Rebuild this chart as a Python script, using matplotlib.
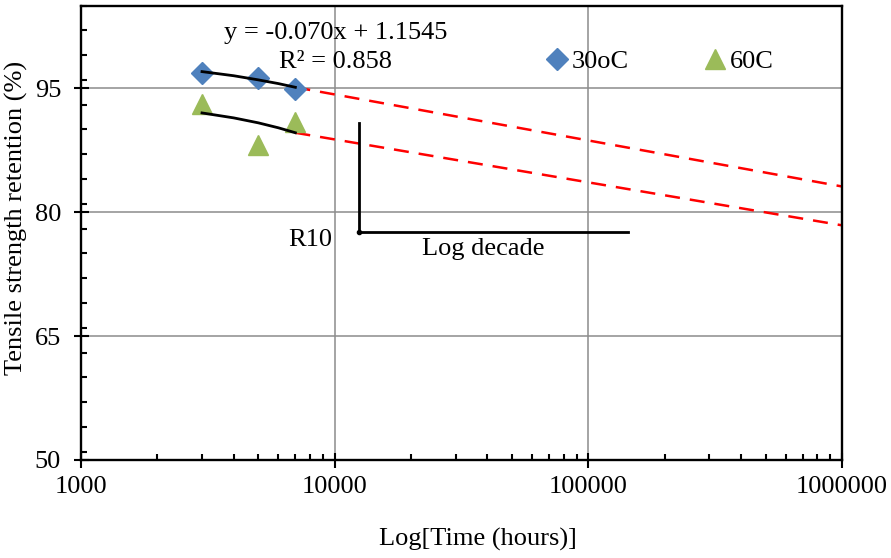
import matplotlib
matplotlib.use("Agg")
import matplotlib.pyplot as plt
from matplotlib.ticker import MultipleLocator, LogLocator, NullFormatter, FixedLocator

plt.rcParams['font.family'] = ['Liberation Serif', 'DejaVu Serif']

# measured points
time_h = [3000, 5000, 7000]
ret_30 = [96.85, 96.25, 94.9]
ret_60 = [93.1, 88.1, 90.9]

# fitted trend (solid)
trend_time = [3000, 4000, 5000, 6000, 7000]
trend_30 = [97.0, 96.5, 96.0, 95.55, 95.1]
trend_60 = [92.0, 91.4, 90.8, 90.2, 89.6]

# extrapolation (dashed)
extrap_time = [7000, 1000000]
extrap_30 = [95.1, 83.1]
extrap_60 = [89.6, 78.4]

# R10 / log decade guide
guide_x = [12500, 12500, 143000]
guide_y = [90.8, 77.65, 77.65]

x_ticks = [1000, 10000, 100000, 1000000]
y_ticks = [50, 65, 80, 95]

FS = 19

fig = plt.figure(figsize=(8.91, 5.58), dpi=100)
ax = fig.add_axes([81 / 891, 1 - 460 / 558, 761 / 891, 454.5 / 558])

ax.set_xscale('log')
ax.set_xlim(1000, 1000000)
ax.set_ylim(50, 105)

ax.grid(True, which='major', color='#8c8c8c', lw=1.1, zorder=0)
ax.set_axisbelow(True)

ax.plot(extrap_time, extrap_30, color='#ff0000', lw=1.8, dashes=(6, 4), zorder=2)
ax.plot(extrap_time, extrap_60, color='#ff0000', lw=1.8, dashes=(6, 4), zorder=2)

ax.plot(time_h, ret_30, ls='none', marker='D', ms=11, color='#4f81bd',
        label='30oC', zorder=3)
ax.plot(time_h, ret_60, ls='none', marker='^', ms=15, color='#9bbb59',
        label='60C', zorder=3)

ax.plot(trend_time, trend_30, color='black', lw=2, zorder=4)
ax.plot(trend_time, trend_60, color='black', lw=2, zorder=4)

ax.plot(guide_x, guide_y, color='black', lw=2, zorder=4)
ax.plot(guide_x[1], guide_y[1], marker='o', ms=3, color='black', zorder=4)

ax.text(0.335, 0.9405, 'y = -0.070x + 1.1545', transform=ax.transAxes,
        ha='center', va='center', fontsize=FS)
ax.text(0.335, 0.8767, 'R² = 0.858', transform=ax.transAxes,
        ha='center', va='center', fontsize=FS)
ax.text(0.301, 0.4846, 'R10', transform=ax.transAxes,
        ha='center', va='center', fontsize=FS)
ax.text(0.528, 0.4648, 'Log decade', transform=ax.transAxes,
        ha='center', va='center', fontsize=FS)

ax.xaxis.set_major_locator(FixedLocator(x_ticks))
ax.set_xticklabels([str(v) for v in x_ticks])
ax.xaxis.set_minor_locator(LogLocator(base=10, subs=range(2, 10)))
ax.xaxis.set_minor_formatter(NullFormatter())
ax.yaxis.set_major_locator(FixedLocator(y_ticks))
ax.yaxis.set_minor_locator(MultipleLocator(3))

ax.tick_params(which='major', direction='inout', length=10.8, width=1.5,
               labelsize=FS, color='black')
ax.tick_params(which='minor', direction='in', length=4.3, width=1.5, color='black')
ax.tick_params(axis='y', which='major', pad=9)
ax.tick_params(axis='x', which='major', pad=6)

for s in ax.spines.values():
    s.set_color('black')
    s.set_linewidth(1.7)

ax.set_ylabel('Tensile strength retention (%)', fontsize=FS)
ax.yaxis.set_label_coords(-0.069, 0.533)
ax.set_xlabel('Log[Time (hours)]', fontsize=FS)
ax.xaxis.set_label_coords(0.522, -0.150)

ax.legend(loc='center left', bbox_to_anchor=(0.613, 0.877), ncol=2, frameon=False,
          fontsize=FS, handlelength=0.75, handletextpad=0.17, columnspacing=2.9,
          borderaxespad=0, borderpad=0, numpoints=1)

fig.savefig('out.png', dpi=100)
